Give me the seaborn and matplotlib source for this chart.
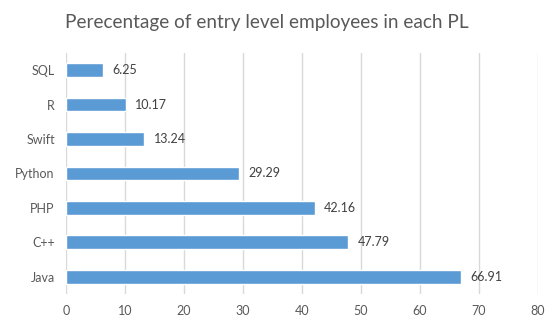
import numpy as np
import pandas as pd
import matplotlib
matplotlib.use("Agg")
import matplotlib.pyplot as plt
import seaborn as sns

# data, top to bottom
languages = ["SQL", "R", "Swift", "Python", "PHP", "C++", "Java"]
percentages = [6.25, 10.17, 13.24, 29.29, 42.16, 47.79, 66.91]
x_ticks = [0, 10, 20, 30, 40, 50, 60, 70, 80]
title = "Perecentage of entry level employees in each PL"

sns.set_style("white")
plt.rcParams["font.family"] = ["Lato", "DejaVu Sans"]

df = pd.DataFrame({"language": languages, "pct": percentages})

fig = plt.figure(figsize=(5.54, 3.23), dpi=100)
ax = fig.add_axes([0.119, 0.090, 0.852, 0.746])

ax.set_axisbelow(True)
ax.xaxis.grid(True, color="#D9D9D9", linewidth=1)
sns.barplot(data=df, x="pct", y="language", orient="h", color="#5B9BD5",
            saturation=1, width=0.40, ax=ax)

for i, v in enumerate(percentages):
    ax.text(v + 1.6, i, f"{v:.2f}", va="center", ha="left", fontsize=9, color="#404040")

ax.set_xlim(0, 80)
ax.set_xticks(x_ticks)
ax.set_ylim(len(languages) - 0.5, -0.5)
ax.set_xlabel("")
ax.set_ylabel("")
ax.tick_params(axis="both", length=0, labelsize=9, colors="#595959", pad=8)
for s in ax.spines.values():
    s.set_visible(False)

fig.text(0.481, 0.93, title, ha="center", va="center", fontsize=13.7, color="#595959")

fig.savefig("out.png", dpi=100)
